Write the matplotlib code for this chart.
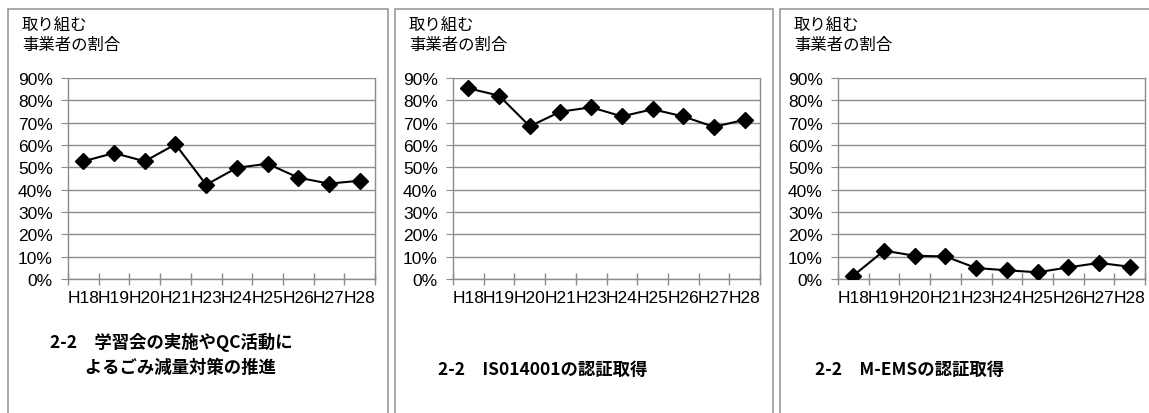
import matplotlib.pyplot as plt
from matplotlib.patches import Rectangle
from matplotlib.ticker import FixedLocator, PercentFormatter

# 年度（カテゴリ）
years = ["H18", "H19", "H20", "H21", "H23", "H24", "H25", "H26", "H27", "H28"]

# 取り組む事業者の割合 (%)
study_qc = [52.7, 56.4, 52.7, 60.3, 42.2, 49.8, 51.6, 45.4, 42.7, 44.0]
iso14001 = [85.4, 82.1, 68.4, 74.9, 76.9, 72.8, 76.0, 72.8, 68.1, 71.3]
m_ems = [1.5, 12.7, 10.4, 10.1, 4.9, 3.9, 3.0, 5.2, 7.2, 5.5]

captions = [
    "2-2　学習会の実施やQC活動に\n　　よるごみ減量対策の推進",
    "2-2　IS014001の認証取得",
    "2-2　M-EMSの認証取得",
]
ylabel = "取り組む\n事業者の割合"

JP = ["Noto Sans CJK JP", "DejaVu Sans"]
NARROW = ["Liberation Sans Narrow", "Liberation Sans", "DejaVu Sans"]
plt.rcParams["font.family"] = JP

W, H = 1149, 414
fig = plt.figure(figsize=(W / 100, H / 100), dpi=100)

def fx(px):
    return px / W

def fy(py):
    return 1 - py / H

# パネル枠（左端, 右端）、軸の左端、キャプション位置
panels = [(8, 388, 68, 42, 355), (395, 773, 453, 43, 370), (780, 1160, 838, 35, 370)]
series = [study_qc, iso14001, m_ems]

for (bx0, bx1, ax_left, cap_dx, cy), vals, cap in zip(panels, series, captions):
    fig.patches.append(Rectangle((fx(bx0), fy(430)), fx(bx1 - bx0), (430 - 10) / H,
                                 transform=fig.transFigure, fill=False,
                                 edgecolor="#9a9a9a", linewidth=1.2))
    ax = fig.add_axes([fx(ax_left), fy(280), fx(307), (280 - 79) / H])
    x = range(len(years))
    ax.plot(x, vals, color="black", linewidth=1.5, marker="D", markersize=8.5,
            markerfacecolor="black", markeredgecolor="black", zorder=3)
    ax.set_xlim(-0.5, len(years) - 0.5)
    ax.set_ylim(0, 90)
    ax.set_yticks(range(0, 91, 10))
    ax.yaxis.set_major_formatter(PercentFormatter(decimals=0))
    ax.grid(axis="y", color="#8c8c8c", linewidth=1)
    ax.set_axisbelow(True)
    ax.set_xticks(list(x))
    ax.set_xticklabels(years)
    ax.xaxis.set_minor_locator(FixedLocator([i - 0.5 for i in range(len(years) + 1)]))
    ax.tick_params(axis="x", which="major", length=0, pad=8)
    ax.tick_params(axis="x", which="minor", direction="inout", length=8,
                   color="#8c8c8c", width=1)
    ax.tick_params(axis="y", direction="out", length=5, color="#8c8c8c", pad=6)
    for lab in ax.get_xticklabels() + ax.get_yticklabels():
        lab.set_fontfamily(NARROW)
        lab.set_fontsize(12.5)
    for s in ax.spines.values():
        s.set_color("#8c8c8c")
        s.set_linewidth(1)
    ax.spines["top"].set_visible(False)

    fig.text(fx(bx0 + 14), fy(17), ylabel, fontsize=11.8, va="top", ha="left",
             linespacing=1.2)
    fig.text(fx(bx0 + cap_dx), fy(cy), cap, fontsize=12.5, fontweight="bold",
             va="center", ha="left", linespacing=1.45)

fig.savefig("out.png", dpi=100)
